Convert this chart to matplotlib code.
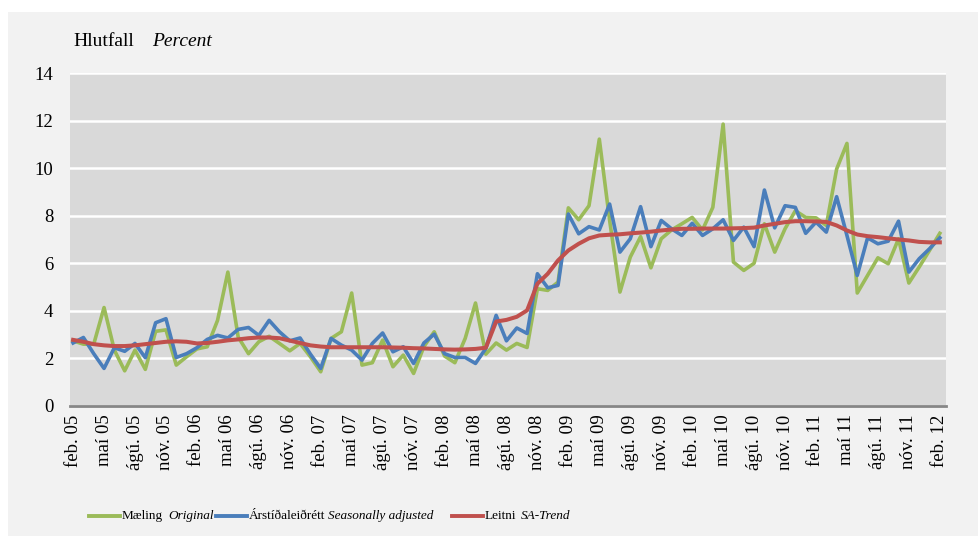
import matplotlib

matplotlib.use("Agg")
import matplotlib.pyplot as plt
from matplotlib.lines import Line2D
from matplotlib.patches import Rectangle

plt.rcParams["font.family"] = ["Liberation Serif", "DejaVu Serif"]

# Monthly series, feb 2005 - feb 2012 (percent)
original = [2.74, 2.6, 2.6, 4.14, 2.35, 1.48, 2.35, 1.54, 3.14, 3.2,
            1.72, 2.07, 2.4, 2.49, 3.6, 5.63, 2.9, 2.2, 2.7, 2.93,
            2.63, 2.32, 2.63, 2.07, 1.44, 2.84, 3.12, 4.75, 1.72, 1.82,
            2.77, 1.65, 2.14, 1.37, 2.5, 3.12, 2.1, 1.82, 2.84, 4.33,
            2.18, 2.65, 2.35, 2.63, 2.46, 4.93, 4.86, 5.21, 8.33, 7.83,
            8.42, 11.22, 7.8, 4.79, 6.26, 7.12, 5.81, 7.03, 7.4, 7.66,
            7.93, 7.4, 8.35, 11.85, 6.05, 5.7, 6.0, 7.66, 6.47, 7.45,
            8.21, 7.93, 7.91, 7.59, 9.96, 11.04, 4.75, 5.49, 6.23, 5.98,
            7.03, 5.17, 5.84, 6.54, 7.26]
seas_adj = [2.65, 2.88, 2.2, 1.58, 2.45, 2.3, 2.63, 2.03, 3.5, 3.67,
            2.04, 2.2, 2.45, 2.8, 2.97, 2.86, 3.22, 3.3, 2.97, 3.6,
            3.12, 2.74, 2.86, 2.18, 1.58, 2.84, 2.56, 2.35, 1.93, 2.63,
            3.07, 2.28, 2.49, 1.79, 2.65, 3.02, 2.2, 2.04, 2.04, 1.79,
            2.42, 3.81, 2.74, 3.28, 3.05, 5.56, 4.97, 5.07, 8.07, 7.24,
            7.54, 7.4, 8.49, 6.47, 7.03, 8.38, 6.7, 7.8, 7.45, 7.17,
            7.68, 7.17, 7.45, 7.83, 6.96, 7.52, 6.7, 9.08, 7.49, 8.42,
            8.35, 7.26, 7.73, 7.31, 8.8, 7.17, 5.49, 7.07, 6.82, 6.93,
            7.77, 5.63, 6.19, 6.61, 7.07]
trend = [2.78, 2.7, 2.6, 2.55, 2.52, 2.52, 2.55, 2.6, 2.65, 2.7,
         2.72, 2.7, 2.63, 2.65, 2.7, 2.76, 2.8, 2.85, 2.88, 2.88,
         2.85, 2.75, 2.65, 2.55, 2.5, 2.47, 2.47, 2.47, 2.47, 2.47,
         2.47, 2.46, 2.45, 2.43, 2.42, 2.4, 2.38, 2.37, 2.38, 2.4,
         2.45, 3.55, 3.62, 3.75, 4.02, 5.14, 5.56, 6.12, 6.54, 6.82,
         7.05, 7.17, 7.2, 7.22, 7.26, 7.29, 7.33, 7.38, 7.42, 7.45,
         7.45, 7.46, 7.46, 7.46, 7.47, 7.48, 7.5, 7.59, 7.66, 7.73,
         7.77, 7.77, 7.76, 7.74, 7.59, 7.38, 7.21, 7.14, 7.1, 7.05,
         7.0, 6.96, 6.9, 6.88, 6.88]

tick_months = ["feb.", "maí", "ágú.", "nóv."]
years = ["05", "06", "07", "08", "09", "10", "11", "12"]
tick_labels = [f"{m} {y}" for y in years for m in tick_months][:29]
y_ticks = [0, 2, 4, 6, 8, 10, 12, 14]

GREEN = "#9bbb59"
BLUE = "#4a7ebb"
RED = "#c0504d"

fig = plt.figure(figsize=(9.79, 5.36), dpi=100, facecolor="white")
# light gray panel behind everything
fig.patches.append(Rectangle((8 / 979, 0), 1, 1 - 12 / 536, transform=fig.transFigure,
                             facecolor="#f2f2f2", edgecolor="none", zorder=-10))

ax = fig.add_axes([70 / 979, 1 - 406 / 536, 876 / 979, 333 / 536])
ax.set_facecolor("#d9d9d9")
x = list(range(len(original)))
ax.plot(x, original, color=GREEN, lw=2.6, zorder=3)
ax.plot(x, seas_adj, color=BLUE, lw=2.6, zorder=4)
ax.plot(x, trend, color=RED, lw=2.9, zorder=5)

ax.set_xlim(-0.3, 84.6)
ax.set_ylim(0, 14)
ax.set_yticks(y_ticks)
ax.set_yticklabels([str(v) for v in y_ticks], fontsize=13.5)
ax.set_xticks(x[::3])
ax.set_xticklabels(tick_labels, rotation=90, fontsize=13.5, va="top", ha="center")
ax.tick_params(axis="x", length=0, pad=6)
ax.tick_params(axis="y", length=0, pad=12)
ax.grid(axis="y", color="white", lw=1.8)
ax.set_axisbelow(True)
for s in ["top", "right", "left"]:
    ax.spines[s].set_visible(False)
ax.spines["bottom"].set_color("#868686")
ax.spines["bottom"].set_linewidth(2)
ax.spines["bottom"].set_zorder(6)

fig.text(73 / 979, 1 - 41 / 536, "Hlutfall", fontsize=14, va="center", ha="left")
fig.text(152 / 979, 1 - 41 / 536, "Percent", fontsize=14, style="italic", va="center", ha="left")

# legend drawn by hand to keep the bilingual labels
ly = 1 - 516 / 536
entries = [
    (GREEN, 89, 120, "Mæling", 122, "Original", 168),
    (BLUE, 216, 247, "Árstíðaleiðrétt", 249, "Seasonally adjusted", 328),
    (RED, 452, 483, "Leitni", 485, "SA-Trend", 521),
]
for col, x0, x1, lab, lx, eng, ex in entries:
    fig.add_artist(Line2D([x0 / 979, x1 / 979], [ly, ly], color=col, lw=2.8,
                          transform=fig.transFigure))
    fig.text(lx / 979, ly, lab, fontsize=9.5, va="center", ha="left")
    fig.text(ex / 979, ly, eng, fontsize=9.5, style="italic", va="center", ha="left")

fig.savefig("out.png", dpi=100, facecolor=fig.get_facecolor())
